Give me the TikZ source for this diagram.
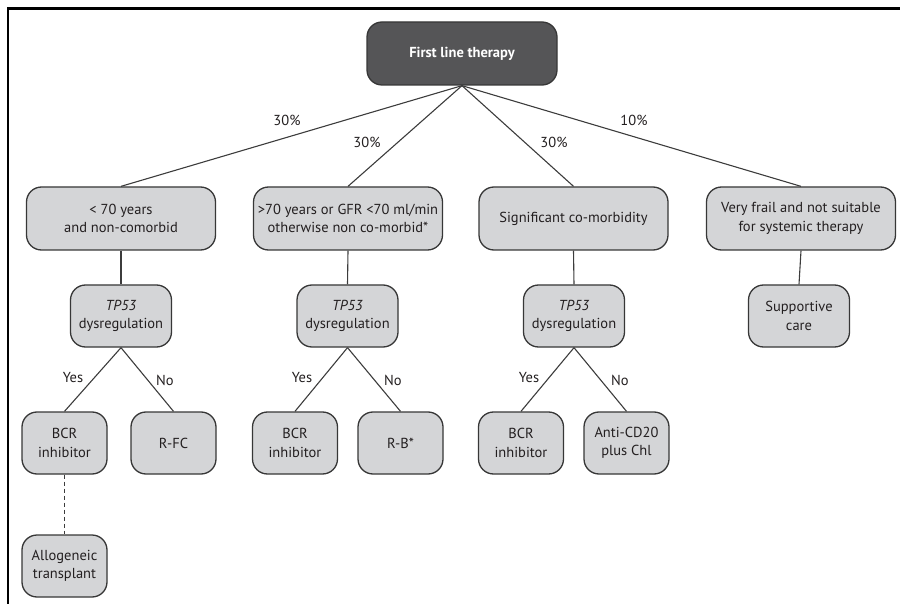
\documentclass[tikz,border=0pt]{standalone}
\usepackage{fontspec}
\setmainfont{PT Sans}
\begin{document}
\begin{tikzpicture}[x=1pt,y=-1pt,
  every node/.style={font=\fontsize{14.5}{18.5}\selectfont, text=txtc},
  box/.style={draw=bordc, line width=1.3pt, fill=boxfill, rounded corners=15pt, align=center, inner sep=1pt},
  topbox/.style={draw=bordc, line width=1.3pt, fill=topfill, rounded corners=15pt, align=center, minimum width=190pt, minimum height=63pt, text=white, font=\fontsize{14.5}{18.5}\selectfont\bfseries},
  lvone/.style={box, minimum width=189pt, minimum height=63pt},
  lvtwo/.style={box, minimum width=101pt, minimum height=62pt},
  lvthree/.style={box, minimum width=85pt, minimum height=62pt},
  conn/.style={draw=linec, line width=1.1pt},
  lbl/.style={inner sep=0pt}
]
\definecolor{boxfill}{RGB}{212,213,215}
\definecolor{topfill}{RGB}{85,85,87}
\definecolor{bordc}{RGB}{55,55,55}
\definecolor{linec}{RGB}{60,60,60}
\definecolor{txtc}{RGB}{35,31,32}
\useasboundingbox (0,0) rectangle (900,604);
% frame
\draw[line width=2.2pt, line cap=rect] (8,604) -- (8,8.5) -- (900,8.5);

\node[topbox] (top) at (462,53.5) {First line therapy};

\node[lvone] (a) at (121,218.5) {< 70 years\\and non-comorbid};
\node[lvone] (b) at (348,218.5) {>70 years or GFR <70 ml/min\\otherwise non co-morbid*};
\node[lvone] (c) at (573.5,218.5) {Significant co-morbidity};
\node[lvone] (d) at (801,218.5) {Very frail and not suitable\\for systemic therapy};

\node[lvtwo] (ta) at (121,316) {\textit{TP53}\\dysregulation};
\node[lvtwo] (tb) at (347.5,316) {\textit{TP53}\\dysregulation};
\node[lvtwo] (tc) at (574,316) {\textit{TP53}\\dysregulation};
\node[lvtwo] (sc) at (799,316) {Supportive\\care};

\node[lvthree] (ya) at (64.5,443) {BCR\\inhibitor};
\node[lvthree] (na) at (173.5,443) {R-FC};
\node[lvthree] (yb) at (295,443) {BCR\\inhibitor};
\node[lvthree] (nb) at (400.5,443) {R-B*};
\node[lvthree] (yc) at (521,443) {BCR\\inhibitor};
\node[lvthree] (nc) at (626.5,443) {Anti-CD20\\plus Chl};

\node[lvthree] (allo) at (64.5,566) {Allogeneic\\transplant};

% connectors
\draw[conn] (top.south) -- (a.north);
\draw[conn] (top.south) -- (b.north);
\draw[conn] (top.south) -- (c.north);
\draw[conn] (top.south) -- (d.north);
\draw[conn] (a.south) -- (ta.north);
\draw[conn] (b.south) -- (tb.north);
\draw[conn] (c.south) -- (tc.north);
\draw[conn] (d.south) -- (sc.north);
\draw[conn] (ta.south) -- (ya.north);
\draw[conn] (ta.south) -- (na.north);
\draw[conn] (tb.south) -- (yb.north);
\draw[conn] (tb.south) -- (nb.north);
\draw[conn] (tc.south) -- (yc.north);
\draw[conn] (tc.south) -- (nc.north);
\draw[conn, dashed, dash pattern=on 4pt off 3pt] (ya.south) -- (allo.north);

% labels
\node[lbl] (l1) at (287,120) {30\%};
\node[lbl] (l2) at (367,142) {30\%};
\node[lbl] (l3) at (554,142) {30\%};
\node[lbl] (l4) at (634,120) {10\%};

\node[lbl] (ya1) at (73,378) {Yes};
\node[lbl] (no1) at (165,380) {No};
\node[lbl] (ya2) at (302,378) {Yes};
\node[lbl] (no2) at (393,380) {No};
\node[lbl] (ya3) at (529,378) {Yes};
\node[lbl] (no3) at (620,380) {No};
\end{tikzpicture}
\end{document}
